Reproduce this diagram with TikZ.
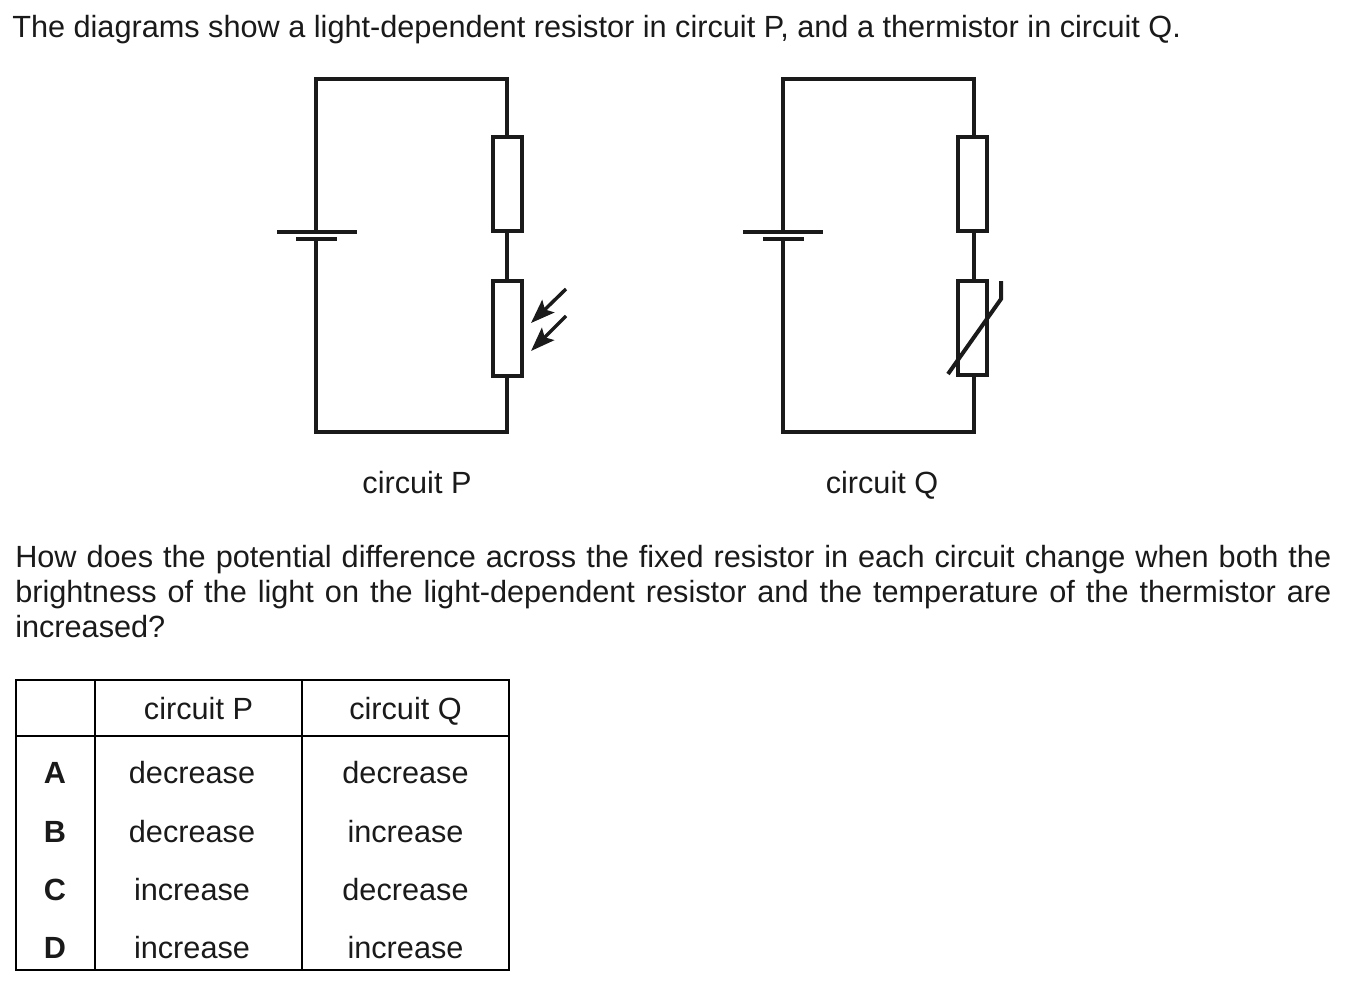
\documentclass[tikz,border=0pt]{standalone}
\usepackage{fontspec}
\setmainfont{Liberation Sans}
\usetikzlibrary{arrows.meta}
\tikzset{
  wire/.style={line width=2.7pt,color=ink,line join=miter},
  plate/.style={line width=3pt,color=ink},
  thin wire/.style={line width=3pt,color=ink},
  res/.style={draw=ink,line width=2.9pt,fill=white,minimum width=22.2pt,minimum height=71pt,inner sep=0pt},
  txt/.style={font=\fontsize{23}{26.25}\selectfont,text=ink,inner sep=0pt,anchor=base},
  letter/.style={txt,font=\fontsize{23}{26.25}\selectfont\bfseries},
  rule/.style={line width=1.9pt,color=black},
  light/.style={line width=2.6pt,color=ink,-{Stealth[length=18pt,width=13pt,inset=3.5pt]}}
}
\definecolor{ink}{HTML}{1A1A1A}
\begin{document}
\begin{tikzpicture}[x=0.75pt,y=-0.75pt]
\useasboundingbox (0,0) rectangle (1348,985);
% heading
\node[txt,anchor=base west] (head) at (12,37) {The diagrams show a light-dependent resistor in circuit P, and a thermistor in circuit Q.};
% circuit P
\coordinate (ptl) at (316,79);
\coordinate (ptr) at (507,79);
\coordinate (pbl) at (316,432);
\coordinate (pbr) at (507,432);
\coordinate (pbt1) at (316,232);
\coordinate (pbt2) at (316,239);
\node[res] (pr1) at (507.5,184) {};
\node[res] (pr2) at (507.5,328.5) {};
\draw[wire] (pbt1) -- (ptl) -- (ptr) -- (pr1.north -| ptr);
\draw[wire] (pr1.south -| ptr) -- (pr2.north -| ptr);
\draw[wire] (pr2.south -| ptr) -- (pbr) -- (pbl) -- (pbt2);
\coordinate (pl1) at (277,232); \coordinate (pl2) at (357,232);
\coordinate (ps1) at (296,239); \coordinate (ps2) at (337,239);
\draw[plate] (pl1) -- (pl2);
\draw[plate] (ps1) -- (ps2);
\coordinate (a1s) at (566,289); \coordinate (a1e) at (531,323);
\coordinate (a2s) at (566,316); \coordinate (a2e) at (531,351);
\draw[light] (a1s) -- (a1e);
\draw[light] (a2s) -- (a2e);
\node[txt] (labp) at (417,493) {circuit P};
% circuit Q
\coordinate (qtl) at (783,79);
\coordinate (qtr) at (974,79);
\coordinate (qbl) at (783,432);
\coordinate (qbr) at (974,432);
\coordinate (qbt1) at (783,232);
\coordinate (qbt2) at (783,239);
\node[res] (qr1) at (972.5,184) {};
\node[res] (qr2) at (972.5,328) {};
\draw[wire] (qbt1) -- (qtl) -- (qtr) -- (qr1.north -| qtr);
\draw[wire] (qr1.south -| qtr) -- (qr2.north -| qtr);
\draw[wire] (qr2.south -| qtr) -- (qbr) -- (qbl) -- (qbt2);
\coordinate (ql1) at (743,232); \coordinate (ql2) at (823,232);
\coordinate (qs1) at (763,239); \coordinate (qs2) at (804,239);
\draw[plate] (ql1) -- (ql2);
\draw[plate] (qs1) -- (qs2);
\coordinate (t1) at (948,374); \coordinate (t2) at (1001,299); \coordinate (t3) at (1001,281);
\draw[thin wire] (t1) -- (t2) -- (t3);
\node[txt] (labq) at (882,493) {circuit Q};
% question
\node[txt,anchor=base west,text width=987pt,align=justify] (ques) at (15,567) {How does the potential difference across the fixed resistor in each circuit change when both the\linebreak brightness of the light on the light-dependent resistor and the temperature of the thermistor are\linebreak[4] increased?};
% table
\coordinate (tl) at (16,680); \coordinate (br) at (509,970);
\coordinate (c1) at (95,680); \coordinate (c2) at (302,680);
\coordinate (h1) at (16,736);
\draw[rule] (tl) rectangle (br);
\draw[rule] (c1) -- (c1 |- br);
\draw[rule] (c2) -- (c2 |- br);
\draw[rule] (h1) -- (h1 -| br);
\node[txt] (hp) at (198.5,719) {circuit P};
\node[txt] (hq) at (405.5,719) {circuit Q};
\node[letter] (la) at (55,783) {A};
\node[letter] (lb) at (55,842) {B};
\node[letter] (lc) at (55,900) {C};
\node[letter] (ld) at (55,958) {D};
\node[txt] (pa) at (192,783) {decrease};
\node[txt] (qa) at (405.5,783) {decrease};
\node[txt] (pb) at (192,842) {decrease};
\node[txt] (qb) at (405.5,842) {increase};
\node[txt] (pc) at (192,900) {increase};
\node[txt] (qc) at (405.5,900) {decrease};
\node[txt] (pd) at (192,958) {increase};
\node[txt] (qd) at (405.5,958) {increase};
\end{tikzpicture}
\end{document}
